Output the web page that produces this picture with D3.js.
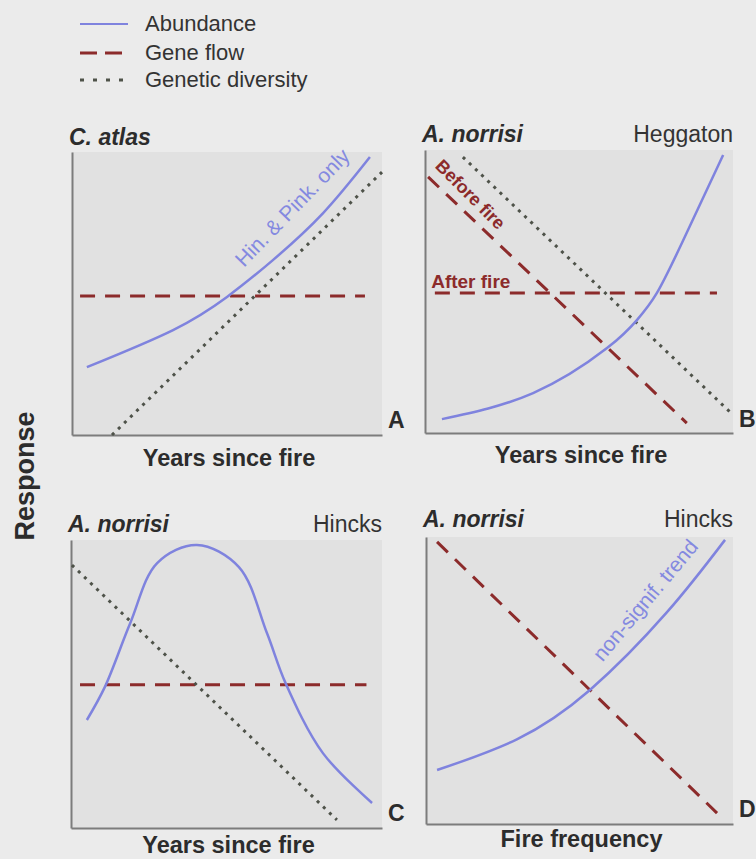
<!DOCTYPE html>
<html>
<head>
<meta charset="utf-8">
<script src="https://cdn.jsdelivr.net/npm/d3@7.9.0/dist/d3.min.js"></script>
<style>
  html, body { margin: 0; padding: 0; background: #ebebeb; }
  svg { display: block; font-family: "Liberation Sans", Arial, Helvetica, sans-serif; }
</style>
</head>
<body>
<div id="chart"></div>
<script>
// labels
const legendLabels = ['Abundance', 'Gene flow', 'Genetic diversity'];
const panelLetters = ['A', 'B', 'C', 'D'];
const speciesNames = ['C. atlas', 'A. norrisi', 'A. norrisi', 'A. norrisi'];
const siteNames = ['', 'Heggaton', 'Hincks', 'Hincks'];
const xTitles = ['Years since fire', 'Years since fire', 'Years since fire', 'Fire frequency'];
const yTitle = 'Response';

// series on a 0-10 response scale
const abundanceA = [[0.48, 2.40], [3.26, 3.71], [5.0, 4.88], [6.48, 6.18], [8.1, 7.84], [9.61, 9.82]];
const geneFlowA = [[0.26, 4.91], [9.45, 4.91]];
const diversityA = [[1.29, 0], [10, 9.29]];

const abundanceB = [[0.55, 0.49], [3.51, 1.41], [5.91, 3.0], [6.88, 3.99], [7.53, 4.95], [8.38, 6.8], [9.68, 9.82]];
const geneFlowBeforeB = [[0.1, 9.05], [8.5, 0.35]];
const geneFlowAfterB = [[0.32, 4.95], [9.48, 4.95]];
const diversityB = [[1.23, 9.75], [10, 0.64]];

const abundanceC = [[0.51, 3.75], [1.09, 4.9], [1.9, 7.1], [2.77, 9.2], [4.05, 9.83], [5.4, 9.06], [6.3, 6.77], [6.9, 5.03], [8.1, 2.6], [9.68, 0.87]];
const geneFlowC = [[0.29, 4.97], [9.5, 4.97]];
const diversityC = [[0.03, 9.13], [8.55, 0.28]];

const abundanceD = [[0.36, 1.88], [2.96, 2.95], [5.34, 4.67], [7.85, 7.38], [9.74, 9.9]];
const geneFlowD = [[0.36, 9.83], [9.48, 0.38]];

const width = 756;
const height = 859;

const styles = {
  abundance: { stroke: '#7f83de', width: 2.5, dash: null },
  geneFlow: { stroke: '#8c2b2b', width: 3, dash: '15,10' },
  diversity: { stroke: '#4e5249', width: 3, dash: '3,5.5' },
};

const panels = [
  { left: 72, top: 152, w: 310, h: 283, titleY: 145, letterY: 428, curve: d3.curveNatural,
    series: [['geneFlow', geneFlowA], ['diversity', diversityA], ['abundance', abundanceA]],
    notes: [{ text: 'Hin. & Pink. only', x: 5.55, y: 5.9, angle: -46, color: '#8489e0', weight: 'normal', size: 21 }] },
  { left: 425, top: 150, w: 308, h: 283, titleY: 142, letterY: 427, curve: d3.curveNatural,
    series: [['geneFlow', geneFlowBeforeB], ['geneFlow', geneFlowAfterB], ['diversity', diversityB], ['abundance', abundanceB]],
    notes: [
      { text: 'Before fire', x: 0.3, y: 9.4, angle: 45, color: '#8c2b2b', weight: 'bold', size: 18 },
      { text: 'After fire', x: 0.2, y: 5.12, angle: 0, color: '#8c2b2b', weight: 'bold', size: 19 }] },
  { left: 71, top: 540, w: 311, h: 288, titleY: 532, letterY: 821, curve: d3.curveCatmullRom.alpha(0.5),
    series: [['geneFlow', geneFlowC], ['diversity', diversityC], ['abundance', abundanceC]],
    notes: [] },
  { left: 426, top: 537, w: 307, h: 287, titleY: 527, letterY: 817, curve: d3.curveNatural,
    series: [['geneFlow', geneFlowD], ['abundance', abundanceD]],
    notes: [{ text: 'non-signif. trend', x: 5.75, y: 5.63, angle: -50, color: '#8489e0', weight: 'normal', size: 21 }] },
];
const xTitleY = [466, 463, 853, 847];

const svg = d3.select('#chart')
  .append('svg')
  .attr('width', width)
  .attr('height', height);

svg.append('rect')
  .attr('width', width)
  .attr('height', height)
  .attr('fill', '#ebebeb');

// legend
const legend = svg.append('g').attr('transform', 'translate(80, 24)');
const legendKeys = ['abundance', 'geneFlow', 'diversity'];
legendLabels.forEach((label, i) => {
  const row = legend.append('g').attr('transform', `translate(0, ${[0, 29, 56][i]})`);
  const st = styles[legendKeys[i]];
  row.append('line')
    .attr('x1', 0).attr('x2', 48)
    .attr('stroke', st.stroke)
    .attr('stroke-width', i === 0 ? 2 : 3)
    .attr('stroke-dasharray', i === 1 ? '17,8' : i === 2 ? '4,9' : null);
  row.append('text')
    .attr('x', 65).attr('y', 7)
    .attr('font-size', 22)
    .attr('fill', '#333')
    .text(label);
});

panels.forEach((p, i) => {
  const x = d3.scaleLinear().domain([0, 10]).range([0, p.w]);
  const y = d3.scaleLinear().domain([0, 10]).range([p.h, 0]);
  const g = svg.append('g').attr('transform', `translate(${p.left}, ${p.top})`);

  g.append('rect')
    .attr('width', p.w)
    .attr('height', p.h)
    .attr('fill', '#e1e1e1');

  // axes are plain lines, no ticks
  g.append('g')
    .attr('transform', `translate(0, ${p.h})`)
    .call(d3.axisBottom(x).ticks(0).tickSizeOuter(0))
    .call(a => a.select('.domain').attr('stroke', '#7c7c7c').attr('stroke-width', 2));
  g.append('g')
    .call(d3.axisLeft(y).ticks(0).tickSizeOuter(0))
    .call(a => a.select('.domain').attr('stroke', '#7c7c7c').attr('stroke-width', 2));

  p.series.forEach(([key, pts]) => {
    const st = styles[key];
    const line = d3.line()
      .x(d => x(d[0]))
      .y(d => y(d[1]))
      .curve(key === 'abundance' ? p.curve : d3.curveLinear);
    g.append('path')
      .datum(pts)
      .attr('d', line)
      .attr('fill', 'none')
      .attr('stroke', st.stroke)
      .attr('stroke-width', st.width)
      .attr('stroke-dasharray', st.dash);
  });

  p.notes.forEach(n => {
    g.append('text')
      .attr('transform', `translate(${x(n.x)}, ${y(n.y)}) rotate(${n.angle})`)
      .attr('font-size', n.size)
      .attr('font-weight', n.weight)
      .attr('fill', n.color)
      .text(n.text);
  });

  // species (bold italic) and site names
  svg.append('text')
    .attr('x', p.left - 3).attr('y', p.titleY)
    .attr('font-size', 23)
    .attr('font-weight', 'bold')
    .attr('font-style', 'italic')
    .attr('fill', '#2c2c2c')
    .text(speciesNames[i]);
  if (siteNames[i]) {
    svg.append('text')
      .attr('x', p.left + p.w).attr('y', p.titleY)
      .attr('text-anchor', 'end')
      .attr('font-size', 23)
      .attr('fill', '#333')
      .text(siteNames[i]);
  }

  svg.append('text')
    .attr('x', p.left + p.w + 6).attr('y', p.letterY)
    .attr('font-size', 23)
    .attr('font-weight', 'bold')
    .attr('fill', '#2c2c2c')
    .text(panelLetters[i]);

  svg.append('text')
    .attr('x', p.left + p.w / 2 + 2).attr('y', xTitleY[i])
    .attr('text-anchor', 'middle')
    .attr('font-size', 23.5)
    .attr('font-weight', 'bold')
    .attr('fill', '#2c2c2c')
    .text(xTitles[i]);
});

svg.append('text')
  .attr('transform', 'translate(34, 476) rotate(-90)')
  .attr('text-anchor', 'middle')
  .attr('font-size', 27)
  .attr('font-weight', 'bold')
  .attr('fill', '#2c2c2c')
  .text(yTitle);
</script>
</body>
</html>
